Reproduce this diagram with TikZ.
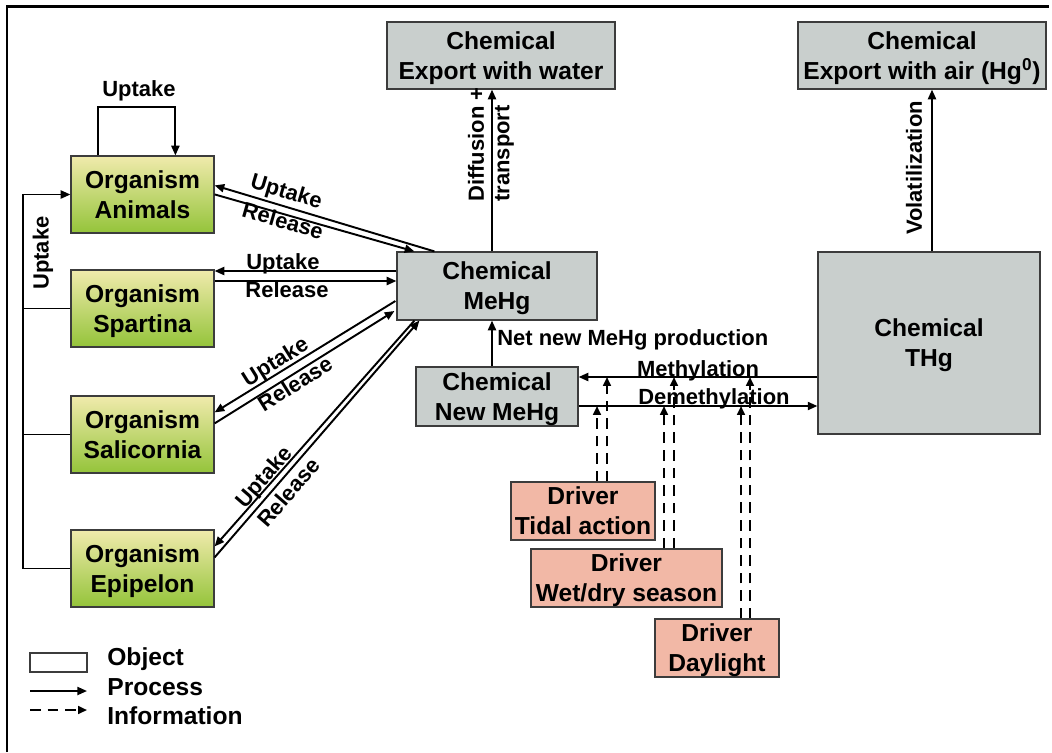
\documentclass[tikz,border=0pt]{standalone}
\usepackage{fontspec}
\setmainfont{Liberation Sans}
\usetikzlibrary{arrows.meta,calc}
\definecolor{chem}{RGB}{201,207,205}
\definecolor{orgtop}{RGB}{240,234,172}
\definecolor{orgbot}{RGB}{148,196,58}
\definecolor{drv}{RGB}{242,184,166}
\definecolor{bord}{RGB}{60,60,60}
\newcommand\bxs{\rule[-3pt]{0pt}{16pt}}
\begin{document}
\begin{tikzpicture}[x=0.02cm,y=-0.02cm,
 box/.style={draw=bord,line width=0.7pt,inner sep=0pt,align=center,font=\fontsize{14}{17}\selectfont\bfseries},
 chembox/.style={box,fill=chem},
 orgbox/.style={box,top color=orgtop,bottom color=orgbot,minimum width=2.86cm,minimum height=1.54cm},
 drvbox/.style={box,fill=drv,minimum height=1.16cm},
 lbl/.style={inner sep=0pt,font=\fontsize{12.5}{14.5}\selectfont\bfseries},
 lgd/.style={inner sep=0pt,font=\fontsize{14}{17}\selectfont\bfseries},
 proc/.style={line width=1.1pt,-{Triangle[length=5.5pt,width=4.6pt]}},
 info/.style={line width=1.1pt,dash pattern=on 6pt off 4pt,-{Triangle[length=5pt,width=4.4pt]}},
 ln/.style={line width=1.1pt}]
\useasboundingbox (0,0) rectangle (1052,752);
% frame
\draw[line width=1.7pt] (7,752) -- (7,6) -- (1049,6);
% nodes
\node[chembox,minimum width=4.56cm,minimum height=1.34cm] (ew) at (501,55.5) {\bxs Chemical\\\bxs Export with water};
\node[chembox,minimum width=4.96cm,minimum height=1.34cm] (ea) at (922,55.5) {\bxs Chemical\\\bxs Export with air (Hg\textsuperscript{0})};
\node[orgbox] (an) at (142.5,194.5) {\bxs Organism\\\bxs Animals};
\node[orgbox] (sp) at (142.5,308.5) {\bxs Organism\\\bxs Spartina};
\node[orgbox] (sa) at (142.5,434.5) {\bxs Organism\\\bxs Salicornia};
\node[orgbox] (ep) at (142.5,568.5) {\bxs Organism\\\bxs Epipelon};
\node[chembox,minimum width=4.0cm,minimum height=1.36cm] (me) at (497,286) {\bxs Chemical\\\bxs MeHg};
\node[chembox,minimum width=3.24cm,minimum height=1.18cm] (nm) at (497,396.5) {\bxs Chemical\\\bxs New MeHg};
\node[chembox,minimum width=4.44cm,minimum height=3.64cm] (th) at (929,343) {\bxs Chemical\\\bxs THg};
\node[drvbox,minimum width=2.88cm] (ti) at (583,511) {\bxs Driver\\\bxs Tidal action};
\node[drvbox,minimum width=3.82cm] (wd) at (626.5,578) {\bxs Driver\\\bxs Wet/dry season};
\node[drvbox,minimum width=2.48cm] (dl) at (717,648) {\bxs Driver\\\bxs Daylight};
% self loop
\draw[proc] ($(an.north west)+(28,0)$) -- ++(0,-48) -| ($(an.north west)+(105,0)$);
\node[lbl] (lself) at (139,91) {Uptake};
% left feedback
\coordinate (lx) at (23,0);
\draw[proc] (ep.west) -- (ep.west -| lx) -- (an.west -| lx) -- (an.west);
\draw[ln] (sp.west) -- (sp.west -| lx);
\draw[ln] (sa.west) -- (sa.west -| lx);
\node[lbl,rotate=90] (lfb) at (43,253) {Uptake};
% animals
\draw[proc] ($(me.north west)+(38,0)$) -- ($(an.north east)+(0,30)$);
\draw[proc] ($(an.north east)+(0,39)$) -- ($(me.north west)+(18,0)$);
\node[lbl,rotate=-16.6] (la1) at (286,193) {Uptake};
\node[lbl,rotate=-16] (la2) at (283,220.5) {Release};
% spartina
\draw[proc] ($(me.west)+(0,-15)$) -- ($(sp.east)+(0,-37.5)$);
\draw[proc] ($(sp.east)+(0,-27.5)$) -- ($(me.west)+(0,-5)$);
\node[lbl] (ls1) at (283,264) {Uptake};
\node[lbl] (ls2) at (287,290) {Release};
% salicornia
\draw[proc] ($(me.west)+(-1,15)$) -- ($(sa.north east)+(0,17)$);
\draw[proc] ($(sa.north east)+(0,28)$) -- ($(me.west)+(-2,25)$);
\node[lbl,rotate=32] (lc1) at (276,363) {Uptake};
\node[lbl,rotate=32] (lc2) at (295,383.5) {Release};
% epipelon
\draw[proc] ($(me.south west)+(18,0)$) -- ($(ep.north east)+(0,17)$);
\draw[proc] ($(ep.north east)+(0,28)$) -- ($(me.south west)+(23,0)$);
\node[lbl,rotate=49] (le1) at (265,478) {Uptake};
\node[lbl,rotate=49] (le2) at (288.5,492.5) {Release};
% export water
\draw[proc] ($(me.north)+(-5,0)$) coordinate (w0) -- (w0 |- ew.south);
\node[lbl,rotate=90,anchor=west,align=left] (ldt) at (491,202) {Diffusion +\\transport};
% volatilization
\draw[proc] ($(th.north)+(3,0)$) coordinate (v0) -- (v0 |- ea.south);
\node[lbl,rotate=90] (lvo) at (914,168) {Volatilization};
% net new
\draw[proc] ($(nm.north)+(-5,0)$) coordinate (n0) -- (n0 |- me.south);
\node[lbl,anchor=west] (lnn) at (497,340) {Net new MeHg production};
% methylation / demethylation
\coordinate (mline) at (0,377);
\coordinate (dline) at (0,406);
\draw[proc] (th.west |- mline) -- (nm.east |- mline);
\draw[proc] (nm.east |- dline) -- (th.west |- dline);
% drivers
\draw[info] ($(ti.north)+(14,0)$) coordinate (t1) -- (t1 |- dline);
\draw[info] ($(ti.north)+(24,0)$) coordinate (t2) -- (t2 |- mline);
\draw[info] ($(wd.north)+(37.5,0)$) coordinate (u1) -- (u1 |- dline);
\draw[info] ($(wd.north)+(47.5,0)$) coordinate (u2) -- (u2 |- mline);
\draw[info] ($(dl.north)+(24,0)$) coordinate (d1) -- (d1 |- dline);
\draw[info] ($(dl.north)+(33,0)$) coordinate (d2) -- (d2 |- mline);
\node[lbl,anchor=base] (lme) at (698,376) {Methylation};
\node[lbl,anchor=base] (lde) at (714,404) {Demethylation};
% legend
\node[draw=bord,line width=0.7pt,fill=white,minimum width=1.14cm,minimum height=0.38cm,inner sep=0pt] (lgobj) at (58.5,662.5) {};
\coordinate (lp0) at (30,691);
\coordinate (lp1) at (87,691);
\draw[proc] (lp0) -- (lp1);
\coordinate (li0) at (30,710);
\coordinate (li1) at (87,710);
\draw[info] (li0) -- (li1);
\node[lgd,anchor=base west] (lgt1) at (107,665) {Object};
\node[lgd,anchor=base west] (lgt2) at (107,695) {Process};
\node[lgd,anchor=base west] (lgt3) at (107,724) {Information};
\end{tikzpicture}
\end{document}
